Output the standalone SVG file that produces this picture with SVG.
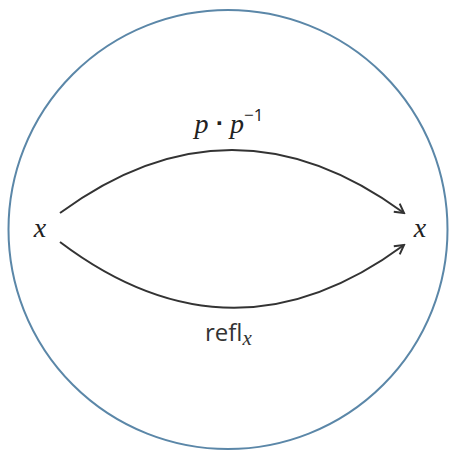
<svg xmlns="http://www.w3.org/2000/svg" width="452" height="451" viewBox="0 0 452 451">
<style>
.lbl{font-family:"Open Sans","Noto Sans",sans-serif;fill:#333;font-size:24px}
.m{font-family:"Liberation Serif","DejaVu Serif",serif;font-style:italic;fill:#222;font-size:28px}
.sub{font-family:"Liberation Serif","DejaVu Serif",serif;font-style:italic;font-size:21px;fill:#333}
.edge{fill:none;stroke:#333;stroke-width:2}
</style>
<defs>
<marker id="ah" viewBox="0 0 12 12" refX="10" refY="6" markerWidth="12" markerHeight="12" markerUnits="userSpaceOnUse" orient="auto">
<path d="M1,1 L10,6 L1,11" fill="none" stroke="#333" stroke-width="2"/>
</marker>
</defs>
<g id="boundary"><circle cx="228" cy="229.5" r="219.5" fill="none" stroke="#5b87a8" stroke-width="2"/></g>
<g id="nodeA"><text class="m" x="40" y="237" text-anchor="middle">x</text></g>
<g id="nodeB"><text class="m" x="420" y="237" text-anchor="middle">x</text></g>
<g id="connectors">
<path class="edge" d="M60,213 Q232,87 404,213" marker-end="url(#ah)"/>
<path class="edge" d="M60,242 Q232,372 404,245" marker-end="url(#ah)"/>
<text x="229" y="133" text-anchor="middle" class="m">p<tspan font-style="normal" font-family="DejaVu Sans,sans-serif" font-weight="bold" font-size="20" dy="-3"> · </tspan><tspan dy="3">p</tspan><tspan font-style="normal" font-family="Open Sans,sans-serif" font-size="17" dy="-12">−1</tspan></text>
<text x="205" y="341" class="lbl">refl<tspan class="sub" dy="4">x</tspan></text>
</g>
</svg>
